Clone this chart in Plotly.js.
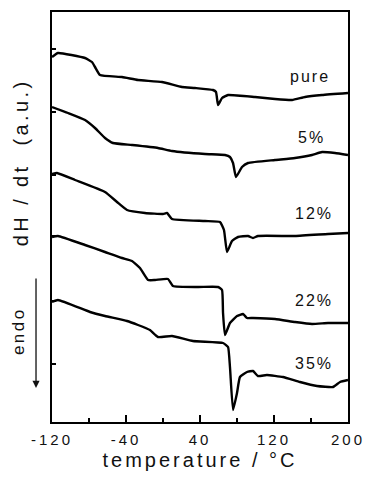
<!DOCTYPE html>
<html>
<head>
<meta charset="utf-8">
<script src="https://cdn.plot.ly/plotly-3.0.1.min.js"></script>
<style>
  html, body { margin: 0; padding: 0; background: #fff; }
  #chart { width: 369px; height: 479px; }
  /* loose tracking of the printed lettering */
  .xtick text { letter-spacing: 3px; }
  text.xtitle { letter-spacing: 3px; }
  .annotation-text { letter-spacing: 2px; }
  g.annotation[data-index="5"] text { letter-spacing: 2.5px; }
  g.annotation[data-index="7"] text { letter-spacing: 3.4px; }
</style>
</head>
<body>
<div id="chart"></div>
<script>
// DSC traces, heat flow in arbitrary units, offset vertically
const tempPure = [-120, -113.5, -84.3, -76.8, -73.5, -68.1, -44.3, -27.0, -1.1, 20.5, 34.6, 54.1, 57.3, 59.5, 63.8, 70.3, 99.5, 121.1, 139.5, 153.5, 171.9, 200];
const flowPure = [3.65, 3.69, 3.64, 3.60, 3.55, 3.47, 3.45, 3.42, 3.40, 3.35, 3.34, 3.32, 3.30, 3.17, 3.24, 3.27, 3.25, 3.23, 3.22, 3.25, 3.27, 3.29];

const temp5 = [-120, -102.7, -84.3, -73.5, -62.7, -54.1, -33.5, -5.4, 9.7, 45.4, 67.0, 72.4, 75.7, 78.9, 85.4, 91.9, 121.1, 142.7, 161.1, 171.9, 185.9, 200];
const flow5 = [3.15, 3.09, 3.02, 2.94, 2.84, 2.79, 2.77, 2.74, 2.71, 2.68, 2.67, 2.65, 2.59, 2.45, 2.55, 2.59, 2.62, 2.64, 2.67, 2.70, 2.69, 2.67];

const temp12 = [-120, -114.6, -95.1, -62.7, -49.7, -38.9, -19.5, 0, 4.3, 9.7, 45.4, 61.6, 65.9, 69.2, 74.6, 81.1, 91.9, 97.3, 102.7, 142.7, 178.4, 200];
const flow12 = [2.48, 2.49, 2.42, 2.30, 2.20, 2.12, 2.09, 2.08, 2.09, 2.03, 2.01, 2.00, 1.92, 1.70, 1.81, 1.85, 1.86, 1.84, 1.86, 1.86, 1.88, 1.89];

const temp22 = [-120, -113.5, -84.3, -62.7, -44.3, -33.5, -24.9, -16.2, -8.6, 5.4, 10.8, 37.8, 59.5, 63.8, 64.9, 67.0, 72.4, 80.0, 86.5, 90.8, 97.3, 121.1, 142.7, 161.1, 178.4, 200];
const flow22 = [1.85, 1.86, 1.77, 1.70, 1.64, 1.61, 1.54, 1.42, 1.42, 1.43, 1.36, 1.35, 1.35, 1.32, 1.09, 0.87, 0.99, 1.06, 1.08, 1.04, 1.04, 1.03, 1.00, 0.98, 0.99, 0.99];

const temp35 = [-120, -113.5, -78.9, -62.7, -38.9, -27.0, -14.1, -5.4, 9.7, 32.4, 64.9, 70.3, 72.4, 75.7, 80.0, 83.2, 90.8, 97.3, 102.7, 112.4, 129.7, 148.1, 166.5, 183.8, 191.4, 200];
const flow35 = [1.20, 1.22, 1.10, 1.06, 1.01, 0.97, 0.92, 0.85, 0.86, 0.81, 0.79, 0.75, 0.55, 0.12, 0.29, 0.45, 0.50, 0.51, 0.46, 0.47, 0.45, 0.40, 0.36, 0.35, 0.40, 0.42];

// curve names and where they are written
const labels = ['pure', '5%', '12%', '22%', '35%'];
const labelTemp = [158.9, 160.0, 163.2, 163.2, 163.2];
const labelFlow = [3.46, 2.85, 2.09, 1.22, 0.59];

const xTickVals = [-120, -40, 40, 120, 200];
const yTickVals = [0.58, 1.21, 1.86, 2.47, 3.10, 3.73];

const series = [
  [tempPure, flowPure],
  [temp5, flow5],
  [temp12, flow12],
  [temp22, flow22],
  [temp35, flow35]
];

const traces = series.map(([t, h], i) => ({
  x: t, y: h, type: 'scatter', mode: 'lines', name: labels[i],
  line: { color: '#000', width: 2.4, shape: 'spline', smoothing: 0.4 },
  hoverinfo: 'skip'
}));

const font = 'Liberation Sans, Arial, Helvetica, sans-serif';

const annotations = labels.map((s, i) => ({
  x: labelTemp[i], y: labelFlow[i], xref: 'x', yref: 'y',
  text: s, showarrow: false, font: { family: font, size: 16, color: '#111' }
}));

// "endo" direction marker (index 5) and its arrow (index 6)
annotations.push({
  xref: 'paper', yref: 'paper', x: -0.111, y: 0.222,
  xanchor: 'center', yanchor: 'middle',
  text: 'endo', textangle: -90, showarrow: false,
  font: { family: font, size: 17, color: '#111' }
});
annotations.push({
  xref: 'paper', yref: 'paper', x: -0.054, y: 0.083,
  ax: 0, ay: -111, axref: 'pixel', ayref: 'pixel',
  text: '', showarrow: true, arrowhead: 2, arrowsize: 1.1, arrowwidth: 1.3, arrowcolor: '#111'
});
// vertical axis caption (index 7), set above the centre of the axis
annotations.push({
  xref: 'paper', yref: 'paper', x: -0.106, y: 0.634,
  xanchor: 'center', yanchor: 'middle',
  text: 'dH / dt\u00a0\u00a0(a.u.)', textangle: -90, showarrow: false,
  font: { family: font, size: 20, color: '#111' }
});

const layout = {
  width: 369, height: 479,
  margin: { l: 52, r: 21, t: 12, b: 57 },
  paper_bgcolor: '#fff', plot_bgcolor: '#fff',
  showlegend: false,
  font: { family: font, color: '#111' },
  xaxis: {
    range: [-120, 200], tickmode: 'array', tickvals: xTickVals,
    ticktext: xTickVals.map(String),
    ticks: 'inside', ticklen: 7, tickwidth: 1.5, tickcolor: '#000',
    minor: { ticks: 'inside', ticklen: 4, tickwidth: 1.5, tickcolor: '#000', tickvals: [-80, 0, 80, 160] },
    showline: true, mirror: true, linewidth: 2, linecolor: '#000',
    showgrid: false, zeroline: false, automargin: false,
    tickfont: { family: font, size: 15, color: '#111' },
    ticklabelstandoff: 3,
    title: { text: 'temperature / °C', font: { family: font, size: 20, color: '#111' }, standoff: 6 }
  },
  yaxis: {
    range: [0, 4.10], tickmode: 'array', tickvals: yTickVals,
    showticklabels: false,
    ticks: 'inside', ticklen: 4, tickwidth: 1.5, tickcolor: '#000',
    showline: true, mirror: true, linewidth: 2, linecolor: '#000',
    showgrid: false, zeroline: false, automargin: false
  },
  annotations: annotations
};

Plotly.newPlot('chart', traces, layout, { staticPlot: true, displayModeBar: false });
</script>
</body>
</html>
